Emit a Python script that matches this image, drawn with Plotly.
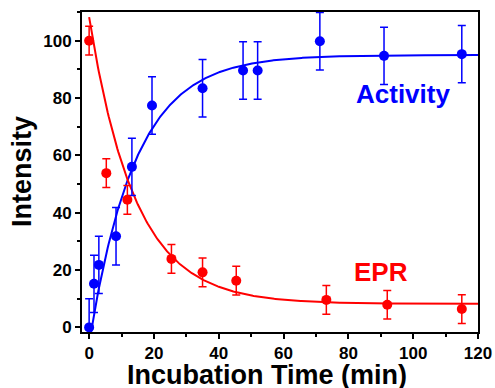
import numpy as np
import plotly.graph_objects as go

# Activity data (blue)
act_t = [0, 1.5, 3.0, 8.3, 13.2, 19.4, 35.0, 47.5, 52.0, 71.2, 91.0, 115.0]
act_y = [0, 15.2, 21.8, 31.8, 56.0, 77.4, 83.4, 89.6, 89.6, 99.8, 94.7, 95.3]
act_err = [10] * 12

# EPR data (red)
epr_t = [0, 5.3, 11.8, 25.4, 35.0, 45.4, 73.2, 92.0, 115.0]
epr_y = [100, 53.8, 44.5, 23.9, 19.2, 16.3, 9.6, 7.9, 6.4]
epr_err = [5] * 9

# Fit parameters
ACT_A, ACT_K, ACT_T0 = 95.0, 0.0702, 0.8
EPR_C, EPR_A, EPR_K = 8.2, 100.0, 0.0705

t_fit = np.linspace(0, 120, 400)
act_fit = ACT_A * (1 - np.exp(-ACT_K * (t_fit - ACT_T0)))
epr_fit = EPR_C + EPR_A * np.exp(-EPR_K * t_fit)

BLUE = "#0000ff"
RED = "#ff0000"
FONT = "Arial, Liberation Sans, sans-serif"

fig = go.Figure()
fig.add_trace(go.Scatter(x=t_fit, y=act_fit, mode="lines",
                         line=dict(color=BLUE, width=2), hoverinfo="skip"))
fig.add_trace(go.Scatter(x=t_fit, y=epr_fit, mode="lines",
                         line=dict(color=RED, width=2), hoverinfo="skip"))
fig.add_trace(go.Scatter(x=act_t, y=act_y, mode="markers",
                         marker=dict(color=BLUE, size=10),
                         error_y=dict(type="data", array=act_err, color=BLUE,
                                      thickness=1.5, width=4),
                         cliponaxis=False))
fig.add_trace(go.Scatter(x=epr_t, y=epr_y, mode="markers",
                         marker=dict(color=RED, size=10),
                         error_y=dict(type="data", array=epr_err, color=RED,
                                      thickness=1.5, width=4),
                         cliponaxis=False))

fig.add_annotation(x=96.8, y=81.5, text="<b>Activity</b>", showarrow=False,
                   font=dict(family=FONT, size=26, color=BLUE))
fig.add_annotation(x=90, y=19.2, text="<b>EPR</b>", showarrow=False,
                   font=dict(family=FONT, size=26, color=RED))

# Axis titles as paper-positioned annotations
fig.add_annotation(xref="paper", yref="paper", x=0.467, y=-0.134,
                   xanchor="center", yanchor="middle", showarrow=False,
                   text="<b>Incubation Time (min)</b>",
                   font=dict(family=FONT, size=27, color="black"))
fig.add_annotation(xref="paper", yref="paper", x=-0.1515, y=0.5,
                   xanchor="center", yanchor="middle", showarrow=False,
                   textangle=-90, text="<b>Intensity</b>",
                   font=dict(family=FONT, size=27, color="black"))

axis_common = dict(showline=True, mirror=True, linecolor="black", linewidth=2,
                   ticks="outside", ticklen=5, tickwidth=1.5, tickcolor="black",
                   showgrid=False, zeroline=False, automargin=False,
                   tickfont=dict(family=FONT, size=17, color="black", weight="bold"))

fig.update_xaxes(range=[-2.2, 120], tickvals=[0, 20, 40, 60, 80, 100, 120],
                 minor=dict(dtick=10, tick0=0, ticklen=3, ticks="outside",
                            tickcolor="black", tickwidth=1.5),
                 **axis_common)
fig.update_yaxes(range=[-1.6, 110], tickvals=[0, 20, 40, 60, 80, 100],
                 minor=dict(dtick=10, tick0=0, ticklen=3, ticks="outside",
                            tickcolor="black", tickwidth=1.5),
                 **axis_common)

fig.update_layout(width=495, height=388,
                  margin=dict(l=82, r=17, t=12, b=56),
                  plot_bgcolor="white", paper_bgcolor="white",
                  showlegend=False)

fig.write_html("out.html", config={"displayModeBar": False},
               post_script="document.body.style.margin='0px';")
